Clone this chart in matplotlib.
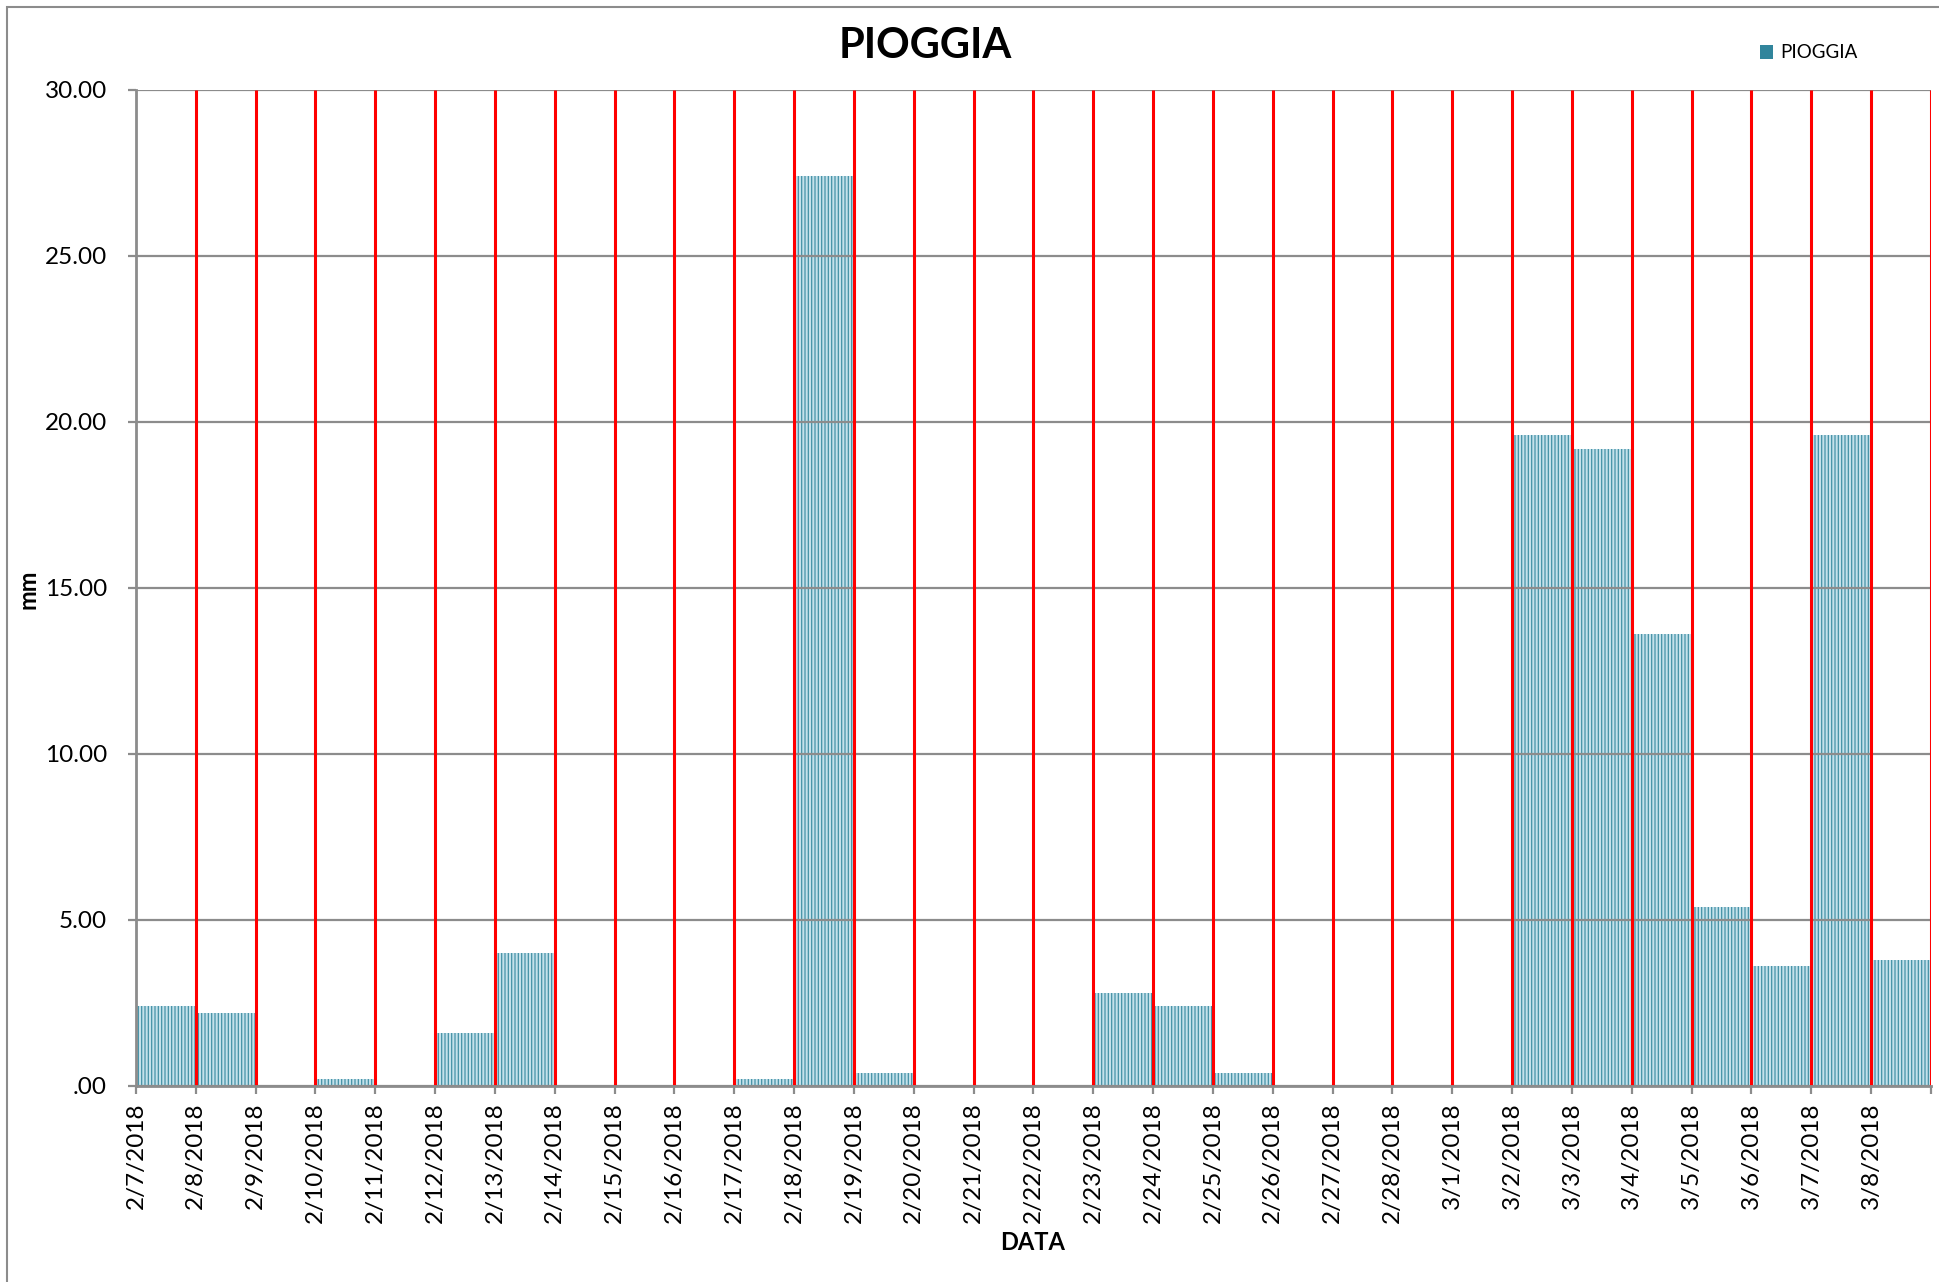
#!/usr/bin/env python3

import matplotlib
matplotlib.use("Agg")
import matplotlib.pyplot as plt
from matplotlib.patches import Patch, Rectangle
import numpy as np

# daily rain (mm), 2/7/2018 -> 3/8/2018
days = ["2/7/2018", "2/8/2018", "2/9/2018", "2/10/2018", "2/11/2018",
        "2/12/2018", "2/13/2018", "2/14/2018", "2/15/2018", "2/16/2018",
        "2/17/2018", "2/18/2018", "2/19/2018", "2/20/2018", "2/21/2018",
        "2/22/2018", "2/23/2018", "2/24/2018", "2/25/2018", "2/26/2018",
        "2/27/2018", "2/28/2018", "3/1/2018", "3/2/2018", "3/3/2018",
        "3/4/2018", "3/5/2018", "3/6/2018", "3/7/2018", "3/8/2018"]
rain = [2.4, 2.2, 0.0, 0.2, 0.0,
        1.6, 4.0, 0.0, 0.0, 0.0,
        0.2, 27.4, 0.4, 0.0, 0.0,
        0.0, 2.8, 2.4, 0.4, 0.0,
        0.0, 0.0, 0.0, 19.6, 19.2,
        13.6, 5.4, 3.6, 19.6, 3.8]
yticks = [0, 5, 10, 15, 20, 25, 30]
ytick_labels = [".00", "5.00", "10.00", "15.00", "20.00", "25.00", "30.00"]


def main():
    plt.rcParams['font.family'] = ['Lato', 'DejaVu Sans']
    plt.rcParams['hatch.linewidth'] = 0.9
    grey = "#8c8c8c"
    W, H = 1940, 1282

    fig = plt.figure(figsize=(19.4, 12.82), dpi=100)
    ax = fig.add_axes([136/W, 196/H, 1795/W, 996/H])

    n = len(days)
    x = np.arange(n)
    ax.bar(x, rain, width=1.0, align='edge', facecolor="#c4e1ea",
           edgecolor="#4592a7", linewidth=0, hatch="|||||", zorder=1)

    # day separators
    ax.vlines(np.arange(1, n + 1), 0, 30, colors="red", linewidth=2.2, zorder=4)

    ax.set_xlim(0, n)
    ax.set_ylim(0, 30)
    ax.set_xticks(np.arange(n + 1))
    ax.set_xticklabels(days + [""], rotation=90, fontsize=17.5)
    ax.set_yticks(yticks)
    ax.set_yticklabels(ytick_labels, fontsize=17.5)
    ax.tick_params(axis='both', color=grey, length=6, width=1.6, direction='out')
    ax.tick_params(axis='x', pad=6)
    ax.tick_params(axis='y', pad=15)

    ax.yaxis.grid(True, color=grey, linewidth=1.6, zorder=3)
    ax.set_axisbelow(False)
    for s in ["top", "right"]:
        ax.spines[s].set_visible(False)
    for s in ["left", "bottom"]:
        ax.spines[s].set_color(grey)
        ax.spines[s].set_linewidth(2)
        ax.spines[s].set_zorder(5)

    fig.text(28/W, 1 - 589/H, "mm", fontsize=17, fontweight='bold',
             rotation=90, ha='center', va='center')
    fig.text(1033/W, 1 - 1243/H, "DATA", fontsize=17, fontweight='bold',
             ha='center', va='center')
    fig.text(925/W, 1 - 46/H, "PIOGGIA", fontsize=30, fontweight='bold',
             ha='center', va='center')

    handle = Patch(facecolor="#31859c", edgecolor="none")
    fig.legend([handle], ["PIOGGIA"], loc='center left',
               bbox_to_anchor=(1760/W, 1 - 53/H), frameon=False,
               fontsize=13.5, handlelength=0.7, handleheight=0.7,
               handletextpad=0.4, borderpad=0, borderaxespad=0)

    # chart border
    fig.patches.append(Rectangle((7/W, -0.1), 2, 1.1 - 7/H, fill=False,
                                 edgecolor=grey, linewidth=1.5,
                                 transform=fig.transFigure, figure=fig))

    fig.savefig('out.png', dpi=100)


if __name__ == "__main__":
    main()
